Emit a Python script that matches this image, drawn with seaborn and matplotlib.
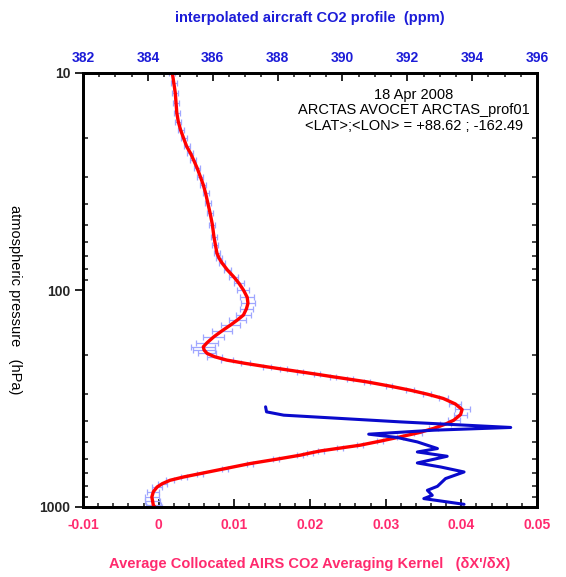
import numpy as np
import pandas as pd
import matplotlib
matplotlib.use("Agg")
import matplotlib.pyplot as plt
import matplotlib.ticker as mticker
import seaborn as sns

# ---- data: averaging kernel (bottom axis) ----
ak_pressure = [10.0, 11.1, 12.4, 13.8, 15.3, 16.8, 18.3, 20.0, 21.8, 23.4,
               25.1, 27.5, 30.0, 32.8, 35.8, 39.8, 44.3, 50.0, 56.8, 62.0,
               67.7, 71.5, 75.3, 81.0, 86.8, 93.0, 100.0, 108.0, 115.2, 122.0,
               130.5, 137.5, 145.0, 154.0, 164.2, 175.0, 182.7, 189.0, 196.0, 203.0,
               210.4, 218.0, 225.9, 232.0, 238.2, 244.5, 251.3, 258.0, 265.0, 277.0,
               289.3, 302.0, 316.1, 335.0, 355.3, 375.0, 398.1, 415.0, 434.7, 455.0,
               475.3, 497.0, 519.2, 535.0, 551.4, 564.0, 577.1, 603.0, 630.5, 665.0,
               701.5, 727.0, 753.2, 780.0, 808.6, 850.0, 899.1, 940.0, 982.2, 1000.0]
ak_value = [0.0018, 0.0020, 0.0022, 0.0023, 0.0024, 0.0026, 0.0029, 0.0033, 0.0037, 0.0042,
            0.0046, 0.0051, 0.0055, 0.0059, 0.0062, 0.0065, 0.0068, 0.0071, 0.0073, 0.0075,
            0.0077, 0.0080, 0.0084, 0.0091, 0.0099, 0.0106, 0.0112, 0.0117, 0.0118, 0.0116,
            0.0112, 0.0104, 0.0095, 0.0084, 0.0073, 0.0064, 0.0059, 0.0060, 0.0064, 0.0074,
            0.0090, 0.0115, 0.0143, 0.0165, 0.0187, 0.0209, 0.0231, 0.0253, 0.0275, 0.0305,
            0.0332, 0.0355, 0.0376, 0.0392, 0.0401, 0.0399, 0.0390, 0.0379, 0.0363, 0.0343,
            0.0319, 0.0293, 0.0266, 0.0240, 0.0214, 0.0200, 0.0187, 0.0155, 0.0121, 0.0088,
            0.0055, 0.0033, 0.0015, 0.0005, -0.0002, -0.0007, -0.0009, -0.0008, -0.0007, -0.0005]
ak_error = [0.0004, 0.0004, 0.0004, 0.0004, 0.0004, 0.0004, 0.0004, 0.0004, 0.0004, 0.0004,
            0.0004, 0.0004, 0.0004, 0.0004, 0.0004, 0.0004, 0.0004, 0.0004, 0.0004, 0.0004,
            0.0004, 0.0004, 0.0004, 0.0005, 0.0006, 0.0007, 0.0008, 0.0009, 0.0009, 0.0009,
            0.0010, 0.0011, 0.0012, 0.0013, 0.0014, 0.0015, 0.0016, 0.0015, 0.0012, 0.0010,
            0.0008, 0.0006, 0.0005, 0.0004, 0.0004, 0.0004, 0.0004, 0.0004, 0.0004, 0.0004,
            0.0005, 0.0005, 0.0006, 0.0008, 0.0010, 0.0009, 0.0008, 0.0007, 0.0006, 0.0005,
            0.0004, 0.0004, 0.0004, 0.0004, 0.0004, 0.0004, 0.0004, 0.0004, 0.0004, 0.0004,
            0.0004, 0.0004, 0.0005, 0.0006, 0.0007, 0.0008, 0.0009, 0.0010, 0.0010, 0.0010]

# ---- data: aircraft CO2 profile (top axis) ----
co2_pressure = [345.5, 364.4, 377.4, 405.3, 430.0, 442.6, 461.8, 478.3, 501.3, 537.8, 557.6,
                583.7, 626.6, 654.0, 689.6, 739.6, 802.8, 837.5, 883.2, 914.7, 938.2, 971.8]
co2_ppm = [387.63, 387.66, 388.19, 391.79, 395.19, 392.82, 390.81, 391.69, 392.31, 392.93,
           392.31, 393.23, 392.31, 393.03, 393.75, 393.18, 392.93, 392.62, 392.77, 392.51,
           393.03, 393.75]

bottom_ticks = [-0.01, 0, 0.01, 0.02, 0.03, 0.04, 0.05]
bottom_labels = ["-0.01", "0", "0.01", "0.02", "0.03", "0.04", "0.05"]
top_ticks = [382, 384, 386, 388, 390, 392, 394, 396]
y_ticks = [10, 100, 1000]

info_lines = ["18 Apr 2008", "ARCTAS AVOCET ARCTAS_prof01", "<LAT>;<LON> = +88.62 ; -162.49"]

sns.set_style("white")
plt.rcParams["font.family"] = ["Liberation Sans", "DejaVu Sans"]

PINK = "#ff2a6e"
BLUE = "#1c1cd8"
ERRC = "#9fa6ff"

W, H = 566, 577
fig = plt.figure(figsize=(W / 100, H / 100), dpi=100)
ax = fig.add_axes([83 / W, 70 / H, 454 / W, 434 / H])

ak_df = pd.DataFrame({"p": ak_pressure, "ak": ak_value, "err": ak_error})
co2_df = pd.DataFrame({"p": co2_pressure, "co2": co2_ppm})

ax.set_yscale("log")
ax.errorbar(ak_df["ak"], ak_df["p"], xerr=ak_df["err"], fmt="none", ecolor=ERRC,
            elinewidth=0.9, capsize=2.3, capthick=0.9, zorder=2)
sns.lineplot(data=ak_df, x="ak", y="p", orient="y", sort=False, estimator=None,
             color="#ff0000", linewidth=2.4, ax=ax, zorder=3)
ax.set_xlim(-0.01, 0.05)
ax.set_ylim(1000, 10)

ax2 = ax.twiny()
sns.lineplot(data=co2_df, x="co2", y="p", orient="y", sort=False, estimator=None,
             color="#0a0acc", linewidth=2.2, ax=ax2, zorder=4)
ax2.set_xlim(382, 396)
ax.set_ylim(1000, 10)

# ticks
ax.set_xticks(bottom_ticks)
ax.set_xticklabels(bottom_labels)
ax.xaxis.set_minor_locator(mticker.MultipleLocator(0.002))
ax2.set_xticks(top_ticks)
ax2.set_xticklabels([str(t) for t in top_ticks])
ax2.xaxis.set_minor_locator(mticker.MultipleLocator(0.5))
ax.set_yticks(y_ticks)
ax.set_yticklabels([str(t) for t in y_ticks])
ax.yaxis.set_minor_locator(mticker.LogLocator(base=10, subs=np.arange(2, 10)))
ax.yaxis.set_minor_formatter(mticker.NullFormatter())

ax.set_xlabel("")
ax.set_ylabel("")
ax2.set_xlabel("")
ax2.set_ylabel("")

ax.tick_params(axis="x", which="major", direction="in", length=6, width=1.4, pad=8,
               labelsize=10, labelcolor=PINK, bottom=True, top=False)
ax.tick_params(axis="x", which="minor", direction="in", length=3, width=1.2, bottom=True, top=False)
ax2.tick_params(axis="x", which="major", direction="in", length=6, width=1.4, pad=6,
                labelsize=10, labelcolor=BLUE, top=True)
ax2.tick_params(axis="x", which="minor", direction="in", length=3, width=1.2, top=True)
ax.tick_params(axis="y", which="major", direction="out", length=6, width=1.4, pad=3,
               labelsize=10, left=True, right=False)
ax.tick_params(axis="y", which="minor", direction="in", length=3.5, width=1.2, left=True, right=True)

for lab in ax.get_xticklabels() + ax2.get_xticklabels() + ax.get_yticklabels():
    lab.set_fontweight("bold")

for a in (ax, ax2):
    for s in a.spines.values():
        s.set_color("black")
        s.set_linewidth(2.0)
        s.set_visible(True)

# text
fig.text(0.5 * (83 + 537) / W, 1 - 18 / H, "interpolated aircraft CO2 profile  (ppm)",
         ha="center", va="center", color=BLUE, fontsize=10.5, fontweight="bold")
fig.text(0.5 * (83 + 537) / W, 1 - 564 / H,
         "Average Collocated AIRS CO2 Averaging Kernel   (\u03b4X'/\u03b4X)",
         ha="center", va="center", color=PINK, fontsize=10.5, fontweight="bold")
fig.text(15 / W, 1 - 300 / H, "atmospheric pressure   (hPa)", rotation=270,
         ha="center", va="center", color="black", fontsize=10.5)

for i, line in enumerate(info_lines):
    fig.text(414 / W, 1 - (95 + 15.5 * i) / H, line, ha="center", va="center",
             fontsize=10.5, color="black")

fig.savefig("out.png", dpi=100)
